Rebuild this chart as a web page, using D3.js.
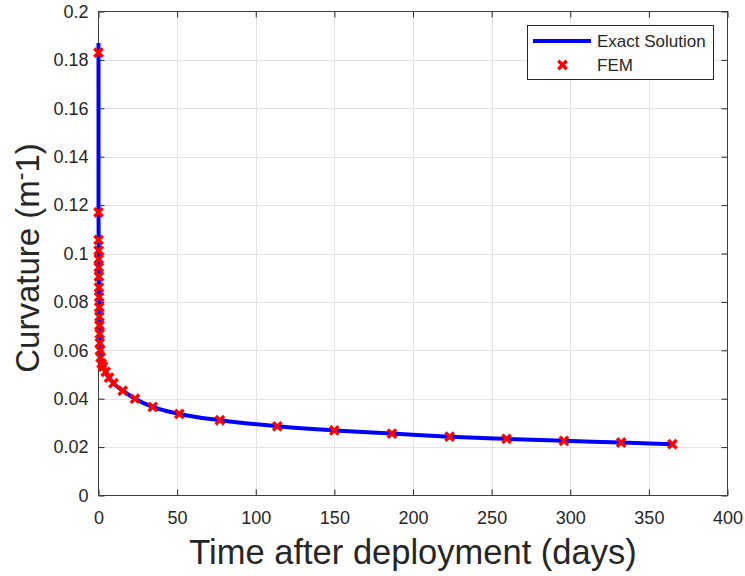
<!DOCTYPE html>
<html>
<head>
<meta charset="utf-8">
<script src="https://cdn.jsdelivr.net/npm/d3@7"></script>
<style>
  body { margin: 0; background: #fff; }
  text { font-family: "Liberation Sans", Arial, Helvetica, sans-serif; fill: #262626; }
</style>
</head>
<body>
<div id="my_dataviz"></div>
<script>
// data
var femDays = [0, 0.02, 0.06, 0.1, 0.15, 0.2, 0.26, 0.33, 0.4, 0.48, 0.56, 0.65, 0.75, 0.85, 1.0, 1.3, 2.0, 2.9, 4.6, 6.7, 9.5, 15.4, 23.2, 34.5, 51.4, 77.2, 113.7, 150, 186.6, 223.3, 259.5, 296, 332.4, 365];
var femCurv = [0.183, 0.117, 0.1056, 0.1012, 0.0977, 0.0943, 0.0905, 0.0860, 0.0820, 0.0778, 0.0739, 0.0703, 0.0668, 0.0630, 0.0600, 0.0570, 0.0545, 0.0533, 0.0511, 0.0487, 0.0464, 0.0433, 0.0400, 0.0366, 0.0337, 0.0311, 0.0286, 0.0269, 0.0256, 0.0243, 0.0234, 0.0226, 0.0219, 0.0212];

var exactDays = [0, 0.01, 0.02, 0.1, 0.2, 0.33, 0.48, 0.65, 0.85, 1.0, 1.3, 2.0, 2.9, 4.6, 6.7, 9.5, 15.4, 23.2, 34.5, 51.4, 77.2, 113.7, 150, 186.6, 223.3, 259.5, 296, 332.4, 365];
var exactCurv = [0.187, 0.15, 0.117, 0.1056, 0.0977, 0.0860, 0.0778, 0.0703, 0.0630, 0.0600, 0.0570, 0.0545, 0.0533, 0.0511, 0.0487, 0.0464, 0.0433, 0.0400, 0.0366, 0.0337, 0.0311, 0.0286, 0.0269, 0.0256, 0.0243, 0.0234, 0.0226, 0.0219, 0.0212];

var xTicks = [0, 50, 100, 150, 200, 250, 300, 350, 400];
var yTicks = [0, 0.02, 0.04, 0.06, 0.08, 0.1, 0.12, 0.14, 0.16, 0.18, 0.2];

var legendNames = ["Exact Solution", "FEM"];

// plot box
var W = 745, H = 576;
var pLeft = 98.5, pRight = 727.5, pTop = 11.5, pBottom = 495.5;

var svg = d3.select("#my_dataviz")
    .append("svg")
    .attr("width", W)
    .attr("height", H);

var x = d3.scaleLinear().domain([0, 400]).range([pLeft, pRight]);
var y = d3.scaleLinear().domain([0, 0.2]).range([pBottom, pTop]);

// grid
var grid = svg.append("g").attr("stroke", "#e3e3e3").attr("stroke-width", 1);
grid.selectAll(".gx").data(xTicks.slice(1, -1)).enter().append("line")
    .attr("x1", function (d) { return Math.round(x(d)) + 0.5; })
    .attr("x2", function (d) { return Math.round(x(d)) + 0.5; })
    .attr("y1", pTop).attr("y2", pBottom);
grid.selectAll(".gy").data(yTicks.slice(1, -1)).enter().append("line")
    .attr("y1", function (d) { return Math.round(y(d)) + 0.5; })
    .attr("y2", function (d) { return Math.round(y(d)) + 0.5; })
    .attr("x1", pLeft).attr("x2", pRight);

// axes (ticks inside, matlab style)
svg.append("g")
    .attr("transform", "translate(0," + pBottom + ")")
    .call(d3.axisBottom(x).tickValues(xTicks).tickSizeInner(-6).tickSizeOuter(0).tickPadding(16).tickFormat(d3.format("d")));
svg.append("g")
    .attr("transform", "translate(" + pLeft + ",0)")
    .call(d3.axisLeft(y).tickValues(yTicks).tickSizeInner(-6).tickSizeOuter(0).tickPadding(10).tickFormat(function (d) { return d === 0 ? "0" : String(+d.toFixed(2)); }));
// top / right ticks
svg.append("g")
    .attr("transform", "translate(0," + pTop + ")")
    .call(d3.axisTop(x).tickValues(xTicks).tickSizeInner(-6).tickSizeOuter(0).tickFormat(""));
svg.append("g")
    .attr("transform", "translate(" + pRight + ",0)")
    .call(d3.axisRight(y).tickValues(yTicks).tickSizeInner(-6).tickSizeOuter(0).tickFormat(""));

svg.selectAll(".domain").remove();
svg.selectAll(".tick line").attr("stroke", "#262626");
svg.selectAll(".tick text").style("font-size", "18px").attr("fill", "#262626");

// box
svg.append("rect")
    .attr("x", pLeft).attr("y", pTop)
    .attr("width", pRight - pLeft).attr("height", pBottom - pTop)
    .attr("fill", "none").attr("stroke", "#404040").attr("stroke-width", 1);

// exact solution line
var exact = exactDays.map(function (d, i) { return [d, exactCurv[i]]; });
var line = d3.line()
    .x(function (d) { return x(d[0]); })
    .y(function (d) { return y(d[1]); })
    .curve(d3.curveMonotoneX);
svg.append("path")
    .datum(exact)
    .attr("d", line)
    .attr("fill", "none")
    .attr("stroke", "#0000ff")
    .attr("stroke-width", 4)
    .attr("stroke-linejoin", "round");

// FEM markers
var cross = "M-4.2,-4.2L4.2,4.2M-4.2,4.2L4.2,-4.2";
var fem = femDays.map(function (d, i) { return [d, femCurv[i]]; });
svg.append("g").selectAll("path")
    .data(fem)
    .enter()
    .append("path")
    .attr("d", cross)
    .attr("transform", function (d) { return "translate(" + x(d[0]) + "," + y(d[1]) + ")"; })
    .attr("fill", "none")
    .attr("stroke", "#ff0000")
    .attr("stroke-width", 3.4);

// axis titles
svg.append("text")
    .attr("x", (pLeft + pRight) / 2)
    .attr("y", 564)
    .attr("text-anchor", "middle")
    .style("font-size", "34.5px")
    .text("Time after deployment (days)");

var yt = svg.append("text")
    .attr("transform", "translate(39,258) rotate(-90)")
    .attr("text-anchor", "middle")
    .style("font-size", "33px");
yt.append("tspan").text("Curvature (m");
yt.append("tspan").attr("dy", -11).style("font-size", "23px").text("-");
yt.append("tspan").attr("dy", 11).text("1)");

// legend
var lg = svg.append("g");
lg.append("rect")
    .attr("x", 527.5).attr("y", 25.5)
    .attr("width", 186).attr("height", 54)
    .attr("fill", "#fff").attr("stroke", "#262626").attr("stroke-width", 1);
lg.append("line")
    .attr("x1", 533).attr("x2", 591)
    .attr("y1", 41).attr("y2", 41)
    .attr("stroke", "#0000ff").attr("stroke-width", 4);
lg.append("path")
    .attr("d", cross)
    .attr("transform", "translate(562.5,65)")
    .attr("fill", "none").attr("stroke", "#ff0000").attr("stroke-width", 3.4);
lg.selectAll(".lt").data(legendNames).enter().append("text")
    .attr("x", 597)
    .attr("y", function (d, i) { return 41 + i * 24; })
    .attr("dy", "0.35em")
    .style("font-size", "17px")
    .text(function (d) { return d; });
</script>
</body>
</html>
